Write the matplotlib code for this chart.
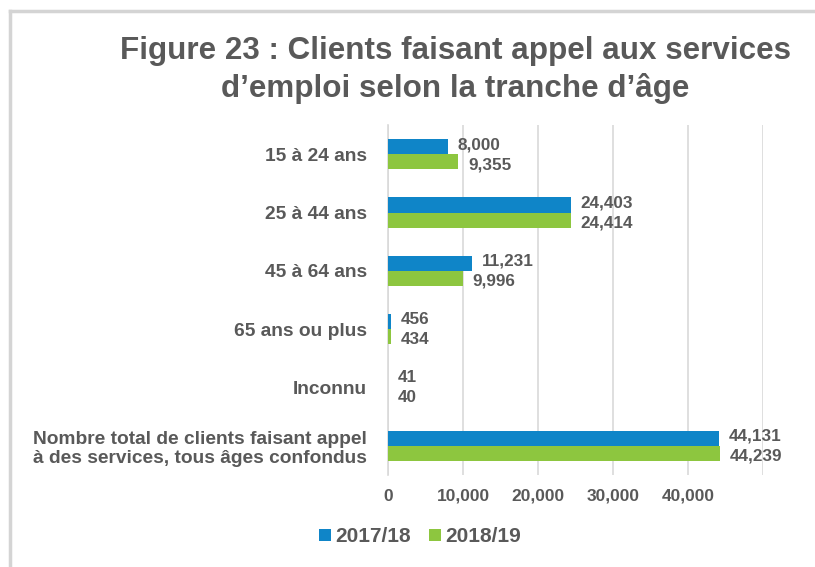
import numpy as np
import matplotlib
matplotlib.use('Agg')
import matplotlib.pyplot as plt
from matplotlib.lines import Line2D
from matplotlib.ticker import FuncFormatter

plt.rcParams['font.family'] = ['Liberation Sans', 'DejaVu Sans']

# ── Données ────────────────────────────────────────────────────────────
categories = ["15 à 24 ans", "25 à 44 ans", "45 à 64 ans", "65 ans ou plus",
              "Inconnu",
              "Nombre total de clients faisant appel\nà des services, tous âges confondus"]
series = ["2017/18", "2018/19"]
val_1718 = [8000, 24403, 11231, 456, 41, 44131]
val_1819 = [9355, 24414, 9996, 434, 40, 44239]

TXT = '#595959'
BLEU = '#0F85C8'
VERT = '#8DC63F'

fig = plt.figure(figsize=(8.15, 5.67), dpi=100)
ax = fig.add_axes([388 / 815, 1 - 475 / 567, 375 / 815, 350 / 567])

y = np.arange(len(categories))
h = 0.26
ax.barh(y - h / 2, val_1718, height=h, color=BLEU, label=series[0], zorder=3)
ax.barh(y + h / 2, val_1819, height=h, color=VERT, label=series[1], zorder=3)

for yi, v in zip(y, val_1718):
    ax.text(v + 1300, yi - h / 2 - 0.035, f"{v:,}", va='center', ha='left',
            fontsize=12.3, fontweight='bold', color=TXT)
for yi, v in zip(y, val_1819):
    ax.text(v + 1300, yi + h / 2 + 0.05, f"{v:,}", va='center', ha='left',
            fontsize=12.3, fontweight='bold', color=TXT)

ax.set_xlim(0, 50000)
ax.set_ylim(len(categories) - 0.5, -0.5)
ax.set_xticks([0, 10000, 20000, 30000, 40000])
ax.xaxis.set_major_formatter(FuncFormatter(lambda v, p: f"{int(v):,}"))
ax.set_yticks(y)
ax.set_yticklabels(categories)
for lab in ax.get_yticklabels():
    lab.set_horizontalalignment('right')
    lab.set_multialignment('left')
ax.tick_params(axis='y', length=0, labelcolor=TXT, labelsize=13.8, pad=15)
ax.tick_params(axis='x', length=0, labelcolor=TXT, labelsize=12.5, pad=10)
for lab in ax.get_xticklabels() + ax.get_yticklabels():
    lab.set_fontweight('bold')

ax.grid(axis='x', color='#D9D9D9', linewidth=1.2, zorder=0)
ax.set_xticks([50000], minor=True)
ax.grid(axis='x', which='minor', color='#D9D9D9', linewidth=1.2, zorder=0)
ax.tick_params(axis='x', which='minor', length=0)
for s in ['top', 'right', 'bottom']:
    ax.spines[s].set_visible(False)
ax.spines['left'].set_color('#D9D9D9')
ax.spines['left'].set_linewidth(1.2)

fig.text(455 / 815, 1 - 51 / 567, "Figure 23 : Clients faisant appel aux services",
         ha='center', va='center', fontsize=22.6, fontweight='bold', color=TXT)
fig.text(455 / 815, 1 - 89 / 567, "d\u2019emploi selon la tranche d\u2019âge",
         ha='center', va='center', fontsize=22.6, fontweight='bold', color=TXT)

leg = fig.legend(loc='center', bbox_to_anchor=(420 / 815, 1 - 537 / 567), ncol=2,
                 frameon=False, handlelength=0.55, handleheight=0.55,
                 handletextpad=0.2, columnspacing=0.9, prop={'size': 15, 'weight': 'bold'})
for t in leg.get_texts():
    t.set_color(TXT)

# cadre gris (haut et gauche)
fig.add_artist(Line2D([10 / 815, 10 / 815], [0, 1 - 11 / 567], transform=fig.transFigure,
                      color='#D4D4D4', linewidth=2.5))
fig.add_artist(Line2D([10 / 815, 1], [1 - 11 / 567, 1 - 11 / 567], transform=fig.transFigure,
                      color='#D4D4D4', linewidth=2.5))

fig.savefig('out.png', dpi=100)
